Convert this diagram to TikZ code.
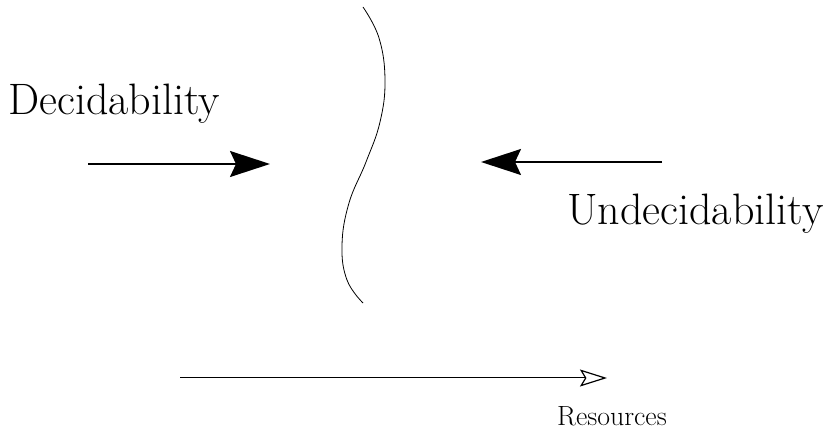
\documentclass[tikz,border=0pt]{standalone}
\usetikzlibrary{arrows.meta}
\begin{document}
\begin{tikzpicture}[x=1pt,y=-1pt,
  bigtext/.style={inner sep=0pt,anchor=base west,font=\fontsize{44}{52}\selectfont},
  smalltext/.style={inner sep=0pt,anchor=base west,font=\fontsize{27.8}{33}\selectfont},
  bigarrow/.style={line width=1.8pt,-{Stealth[length=40pt,width=26pt,inset=6pt]}},
  resarrow/.style={line width=1pt,-{Stealth[open,length=27pt,width=17pt,inset=5pt,line width=1.2pt]}},
  border/.style={line width=0.8pt}]
\useasboundingbox (0,0) rectangle (828,430);
\node[bigtext] (dec) at (8,115) {Decidability};
\node[bigtext] (undec) at (567,225) {Undecidability};
\node[smalltext] (res) at (557,426) {Resources};
\coordinate (a1s) at (88,164);
\coordinate (a1e) at (270,164);
\coordinate (a2s) at (662,162);
\coordinate (a2e) at (481,162);
\coordinate (a3s) at (180,378);
\coordinate (a3e) at (607,378);
\draw[bigarrow] (a1s) -- (a1e);
\draw[bigarrow] (a2s) -- (a2e);
\draw[resarrow] (a3s) -- (a3e);
\draw[border] plot[smooth,tension=0.7] coordinates {(363,7) (379,38) (385,80) (380,122) (366,162) (349,203) (342,245) (347,280) (363,303)};
\end{tikzpicture}
\end{document}
